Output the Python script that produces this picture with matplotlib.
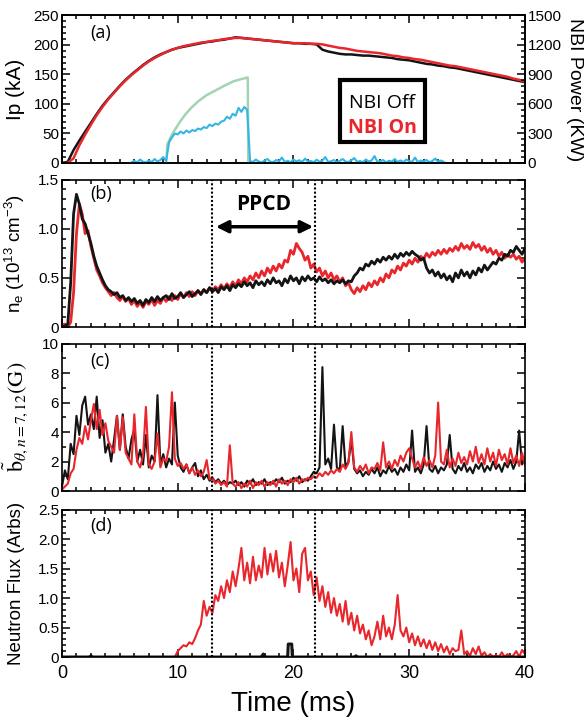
"""
Four stacked time traces: plasma current, density, magnetic fluctuation, neutron flux.
"""

import matplotlib
matplotlib.use('Agg')
import matplotlib.pyplot as plt
from matplotlib.patches import Rectangle
from matplotlib.ticker import MultipleLocator
import numpy as np

plt.rcParams['font.family'] = ['Liberation Sans', 'DejaVu Sans']
plt.rcParams['mathtext.fontset'] = 'custom'
plt.rcParams['mathtext.rm'] = 'Liberation Sans'
plt.rcParams['mathtext.it'] = 'Liberation Sans:italic'
plt.rcParams['mathtext.bf'] = 'Liberation Sans:bold'

# ---------------- data ----------------
# plasma current Ip (kA), sampled every 0.5 ms from 0 ms
ip_step = 0.5
ip_off = [0, 2, 22, 38, 53, 68, 83, 97, 109, 120,
          131, 141, 150, 158, 166, 173, 179, 184, 188, 192,
          195, 197, 199, 201, 203, 205, 206, 208, 209, 211,
          213, 212, 211, 210, 209, 208, 207, 206, 205, 204,
          203, 203, 202, 202, 201, 192, 189, 187, 185, 184,
          184, 183, 182, 182, 181, 180, 179, 178, 176, 175,
          174, 172, 170, 168, 167, 165, 164, 162, 161, 159,
          157, 155, 153, 151, 149, 147, 145, 143, 141, 139,
          137]
ip_on = [0, 0, 8, 30, 48, 65, 81, 95, 108, 119,
         130, 140, 149, 157, 165, 172, 178, 183, 188, 192,
         195, 198, 200, 202, 204, 205, 207, 208, 210, 211,
         212, 212, 211, 210, 209, 208, 207, 206, 205, 204,
         203, 203, 203, 202, 202, 201, 199, 197, 195, 194,
         192, 190, 189, 188, 187, 186, 184, 182, 181, 179,
         178, 176, 175, 173, 171, 169, 167, 165, 164, 162,
         160, 158, 156, 154, 152, 150, 148, 146, 143, 141,
         138]

# NBI power (kW): injected (green) and measured (blue)
nbi_inj_t = [9.0, 9.1, 9.5, 10.2, 10.7, 11.2, 11.8, 12.5, 13.3, 14.1, 14.8, 15.4, 15.9, 16.05, 16.1]
nbi_inj = [0, 190, 290, 420, 500, 565, 630, 690, 740, 790, 830, 850, 865, 870, 0]
nbi_meas_t0, nbi_meas_step = 6.0, 0.25
nbi_meas = [5, 20, 8, 35, 12, 5, 25, 10, 40, 15, 30, 60,
            20, 210, 260, 300, 290, 320, 300, 330, 310, 335, 325, 350,
            340, 365, 355, 390, 375, 400, 390, 420, 430, 470, 450, 500,
            480, 560, 520, 570, 540, 20, 10, 35, 15, 5, 25, 40,
            12, 8, 30, 18, 55, 10, 22, 6, 35, 15, 28, 9,
            45, 14, 20, 8, 33, 12, 25, 60, 10, 18, 30, 7,
            22, 40, 15, 9, 28, 50, 12, 20, 8, 35, 16, 25,
            70, 12, 18, 30, 6, 22, 14, 40, 10, 26, 8, 35,
            18, 12, 55, 9, 24, 15, 30, 8, 20, 45, 12, 25,
            10]

# the remaining traces are sampled every 0.25 ms from 0 to 40 ms
fast_step = 0.25

# electron density (1e13 cm^-3)
ne_off = [0.0, 0.01, 0.03, 0.45, 1.15, 1.35, 1.25, 1.1, 1.05, 0.95, 0.85, 0.72,
          0.62, 0.55, 0.48, 0.42, 0.38, 0.36, 0.33, 0.35, 0.30, 0.32, 0.27, 0.30,
          0.26, 0.29, 0.24, 0.27, 0.22, 0.28, 0.25, 0.30, 0.26, 0.31, 0.27, 0.30,
          0.32, 0.28, 0.34, 0.29, 0.31, 0.35, 0.30, 0.33, 0.36, 0.31, 0.34, 0.37,
          0.33, 0.38, 0.35, 0.40, 0.36, 0.39, 0.35, 0.41, 0.38, 0.42, 0.37, 0.43,
          0.40, 0.44, 0.41, 0.46, 0.42, 0.45, 0.40, 0.47, 0.43, 0.46, 0.42, 0.48,
          0.44, 0.50, 0.45, 0.47, 0.42, 0.49, 0.45, 0.52, 0.47, 0.50, 0.44, 0.51,
          0.47, 0.52, 0.48, 0.50, 0.46, 0.51, 0.47, 0.49, 0.45, 0.48, 0.44, 0.47,
          0.45, 0.48, 0.44, 0.47, 0.46, 0.52, 0.55, 0.60, 0.58, 0.64, 0.62, 0.67,
          0.64, 0.69, 0.66, 0.71, 0.68, 0.72, 0.69, 0.74, 0.70, 0.75, 0.72, 0.76,
          0.73, 0.77, 0.74, 0.72, 0.68, 0.70, 0.60, 0.55, 0.58, 0.52, 0.56, 0.50,
          0.54, 0.48, 0.52, 0.46, 0.55, 0.50, 0.58, 0.52, 0.56, 0.50, 0.57, 0.53,
          0.60, 0.56, 0.63, 0.58, 0.62, 0.66, 0.64, 0.70, 0.68, 0.74, 0.72, 0.78,
          0.76, 0.82, 0.78, 0.74, 0.80]
ne_on = [0.02, 0.03, 0.0, 0.05, 0.35, 0.95, 1.25, 1.15, 0.95, 0.98, 0.82, 0.70,
         0.58, 0.52, 0.45, 0.40, 0.36, 0.32, 0.35, 0.30, 0.27, 0.31, 0.26, 0.29,
         0.23, 0.27, 0.21, 0.25, 0.20, 0.26, 0.23, 0.28, 0.22, 0.27, 0.24, 0.30,
         0.26, 0.31, 0.27, 0.32, 0.28, 0.34, 0.30, 0.35, 0.31, 0.36, 0.32, 0.37,
         0.34, 0.38, 0.35, 0.40, 0.36, 0.41, 0.38, 0.43, 0.39, 0.44, 0.40, 0.46,
         0.42, 0.48, 0.44, 0.50, 0.46, 0.52, 0.48, 0.55, 0.50, 0.57, 0.52, 0.60,
         0.55, 0.62, 0.57, 0.64, 0.60, 0.68, 0.66, 0.78, 0.74, 0.85, 0.80, 0.76,
         0.68, 0.72, 0.60, 0.64, 0.56, 0.60, 0.52, 0.57, 0.50, 0.55, 0.48, 0.52,
         0.46, 0.50, 0.42, 0.45, 0.38, 0.34, 0.40, 0.36, 0.42, 0.38, 0.45, 0.41,
         0.47, 0.43, 0.50, 0.46, 0.54, 0.50, 0.58, 0.55, 0.62, 0.58, 0.65, 0.62,
         0.68, 0.64, 0.70, 0.66, 0.72, 0.69, 0.75, 0.71, 0.76, 0.73, 0.78, 0.74,
         0.79, 0.75, 0.80, 0.77, 0.82, 0.78, 0.85, 0.80, 0.83, 0.79, 0.86, 0.81,
         0.84, 0.78, 0.82, 0.76, 0.80, 0.74, 0.78, 0.72, 0.76, 0.70, 0.74, 0.71,
         0.74, 0.69, 0.72, 0.66, 0.70]

# magnetic fluctuation amplitude (G)
bt_off = [0.3, 1.4, 0.8, 3.2, 2.5, 5.1, 3.8, 5.8, 6.4, 4.5, 5.2, 4.2,
          6.4, 3.6, 4.8, 2.6, 3.2, 2.0, 3.5, 5.1, 2.8, 5.2, 3.0, 2.2,
          3.5, 4.2, 2.0, 2.8, 1.8, 3.8, 1.6, 2.4, 2.0, 6.5, 1.8, 2.5,
          1.6, 2.2, 1.8, 6.0, 2.4, 1.6, 1.3, 1.8, 1.2, 1.6, 1.9, 1.0,
          1.4, 0.8, 1.1, 0.7, 0.9, 0.6, 0.8, 0.5, 0.7, 0.4, 0.6, 0.5,
          0.7, 0.4, 0.6, 0.3, 0.7, 0.5, 0.8, 0.4, 0.6, 0.5, 0.8, 0.4,
          0.6, 0.5, 0.8, 0.6, 0.9, 0.5, 0.7, 0.6, 0.9, 0.7, 1.0, 0.6,
          0.8, 0.7, 1.0, 1.3, 1.2, 1.6, 8.4, 1.8, 2.2, 1.5, 4.5, 1.6,
          1.4, 4.4, 1.6, 2.0, 3.5, 1.5, 1.2, 1.4, 1.0, 1.3, 1.1, 1.5,
          1.2, 1.6, 1.0, 1.4, 1.2, 1.7, 1.3, 1.5, 1.1, 1.6, 1.3, 1.8,
          1.4, 4.1, 1.3, 1.6, 1.2, 1.8, 4.4, 1.5, 1.3, 1.7, 1.2, 1.6,
          1.4, 1.8, 3.8, 1.5, 1.2, 1.7, 1.4, 1.9, 1.3, 1.6, 1.2, 1.8,
          1.5, 1.9, 1.3, 1.7, 1.4, 2.0, 1.5, 1.8, 1.3, 1.9, 1.6, 2.1,
          1.5, 2.0, 4.1, 1.8, 2.2]
bt_on = [0.1, 0.3, 0.5, 1.2, 1.5, 2.8, 3.6, 3.2, 4.4, 3.5, 4.8, 5.9,
         4.2, 5.5, 3.8, 4.6, 3.4, 3.0, 2.6, 5.1, 2.8, 5.0, 2.6, 2.2,
         1.8, 5.2, 2.0, 1.6, 2.4, 5.7, 1.8, 1.5, 2.0, 3.9, 1.6, 2.2,
         2.0, 3.0, 6.7, 2.2, 1.7, 1.9, 1.5, 1.8, 1.2, 1.6, 1.1, 1.4,
         1.0, 1.3, 2.1, 0.8, 0.9, 0.5, 0.7, 0.4, 0.6, 0.3, 3.1, 0.5,
         0.3, 0.6, 0.2, 0.5, 0.3, 0.7, 0.2, 0.6, 0.4, 0.7, 0.3, 0.6,
         0.4, 0.7, 0.3, 0.8, 0.5, 0.7, 0.4, 0.8, 0.6, 0.9, 0.5, 0.8,
         0.7, 0.9, 0.8, 1.0, 0.9, 1.2, 1.0, 1.3, 1.1, 1.4, 1.2, 1.5,
         1.3, 1.8, 1.5, 1.9, 4.0, 1.6, 1.3, 1.7, 1.4, 1.8, 1.2, 1.6,
         1.5, 1.9, 1.4, 3.3, 1.6, 2.0, 1.5, 2.1, 1.7, 2.4, 2.0, 2.6,
         2.9, 2.2, 1.6, 2.0, 1.5, 2.3, 1.7, 2.1, 1.6, 2.4, 6.0, 2.0,
         1.8, 2.8, 1.6, 2.2, 1.7, 2.6, 1.9, 2.3, 1.8, 2.7, 2.0, 3.0,
         1.9, 2.5, 1.8, 2.9, 2.0, 2.6, 1.7, 2.8, 2.1, 2.5, 1.8, 2.9,
         1.9, 2.4, 1.7, 2.6, 1.8]

# neutron flux (arb. units)
nf_on = [0.0] * 36 + [
    0.0, 0.0, 0.0, 0.0, 0.1, 0.15, 0.2, 0.18, 0.25, 0.22, 0.32, 0.45,
    0.55, 0.95, 0.7, 0.85, 0.75, 1.05, 0.95, 1.2, 1.0, 1.3, 1.1, 1.45,
    1.2, 1.5, 1.85, 1.3, 1.6, 1.25, 1.7, 1.3, 1.55, 1.35, 1.85, 1.4,
    1.75, 1.45, 1.8, 1.35, 1.6, 1.2, 1.55, 1.95, 1.3, 1.5, 1.1, 1.75,
    1.85, 1.3, 1.45, 1.05, 1.35, 0.95, 1.2, 0.85, 1.1, 0.75, 1.0, 0.7,
    0.9, 0.6, 0.95, 0.55, 0.75, 0.45, 0.7, 0.4, 0.55, 0.3, 0.45, 0.2,
    0.35, 0.6, 0.3, 0.7, 0.35, 0.5, 0.3, 0.55, 1.05, 0.45, 0.35, 0.5,
    0.25, 0.4, 0.2, 0.35, 0.18, 0.3, 0.15, 0.28, 0.12, 0.25, 0.1, 0.22,
    0.08, 0.18, 0.05, 0.15, 0.1, 0.12, 0.45, 0.05, 0.1, 0.02, 0.15, 0.05,
    0.18, 0.02, 0.08, 0.0, 0.05, 0.0, 0.03, 0.0, 0.08, 0.0, 0.05, 0.0,
    0.03, 0.1, 0.0, 0.12, 0.05]
nf_off_t = [0, 2.4, 2.5, 2.6, 17.2, 17.4, 17.6, 19.5, 19.55, 19.85, 19.9, 25.3, 25.4, 25.5, 40]
nf_off = [0, 0, 0.02, 0, 0, 0.05, 0, 0, 0.22, 0.22, 0, 0, 0.02, 0, 0]

ppcd_window = [13.0, 21.9]

# ---------------- styling ----------------
RED = '#e8262b'
BLACK = '#141414'
BLUE = '#33b6e4'
GREEN = '#a2d4b2'


def fast_time(values, t0=0.0, step=fast_step):
    return t0 + step * np.arange(len(values))


def style_axis(ax, ymax, ymajor, yminor, right=True):
    ax.set_xlim(0, 40)
    ax.set_ylim(0, ymax)
    ax.xaxis.set_major_locator(MultipleLocator(10))
    ax.xaxis.set_minor_locator(MultipleLocator(1.25))
    ax.yaxis.set_major_locator(MultipleLocator(ymajor))
    ax.yaxis.set_minor_locator(MultipleLocator(yminor))
    ax.tick_params(which='both', direction='in', top=True, right=right, width=1.1)
    ax.tick_params(which='major', length=6)
    ax.tick_params(which='minor', length=3)
    ax.tick_params(axis='y', labelsize=11, pad=2)
    ax.tick_params(axis='x', labelsize=13, pad=6)
    for sp in ax.spines.values():
        sp.set_linewidth(1.2)


fig = plt.figure(figsize=(5.86, 7.24), dpi=100)
left, width, height = 0.1058, 0.790, 0.2037
bottoms = [0.7749, 0.5483, 0.3218, 0.0925]
axes = [fig.add_axes([left, b, width, height]) for b in bottoms]
ax_a, ax_b, ax_c, ax_d = axes

# (a) plasma current + NBI power
t_ip = ip_step * np.arange(len(ip_off))
ax_a.plot(t_ip, ip_off, color=BLACK, lw=1.8)
ax_a.plot(t_ip, ip_on, color=RED, lw=1.8)
style_axis(ax_a, 250, 50, 10, right=False)
ax_a.set_ylabel('Ip (kA)', fontsize=15)
ax_a.yaxis.set_label_coords(-0.08, 0.5)

ax_nbi = ax_a.twinx()
ax_nbi.plot(nbi_inj_t, nbi_inj, color=GREEN, lw=1.8)
ax_nbi.plot(fast_time(nbi_meas, nbi_meas_t0, nbi_meas_step), nbi_meas, color=BLUE, lw=1.5)
ax_nbi.set_ylim(0, 1500)
ax_nbi.yaxis.set_major_locator(MultipleLocator(300))
ax_nbi.yaxis.set_minor_locator(MultipleLocator(60))
ax_nbi.tick_params(which='both', direction='in', width=1.1, labelsize=11, pad=2)
ax_nbi.tick_params(which='major', length=6)
ax_nbi.tick_params(which='minor', length=3)
ax_nbi.set_ylabel('NBI Power (KW)', fontsize=14, rotation=270, va='center', ha='center')
ax_nbi.yaxis.set_label_coords(1.108, 0.5)
for sp in ax_nbi.spines.values():
    sp.set_linewidth(1.2)

# legend box
ax_a.add_patch(Rectangle((0.60, 0.142), 0.185, 0.42, transform=ax_a.transAxes,
                         fill=False, lw=3, edgecolor='black', zorder=5))
ax_a.text(0.692, 0.41, 'NBI Off', transform=ax_a.transAxes, ha='center', va='center',
          fontsize=14, family=['Open Sans', 'DejaVu Sans'], color='black')
ax_a.text(0.692, 0.236, 'NBI On', transform=ax_a.transAxes, ha='center', va='center',
          fontsize=14, family=['Open Sans', 'DejaVu Sans'], color=RED, fontweight='bold')

# (b) density
ax_b.plot(fast_time(ne_on), ne_on, color=RED, lw=2.0)
ax_b.plot(fast_time(ne_off), ne_off, color=BLACK, lw=2.0)
style_axis(ax_b, 1.5, 0.5, 0.1)
ax_b.set_yticks([0, 0.5, 1.0, 1.5])
ax_b.set_yticklabels(['0', '0.5', '1.0', '1.5'])
ax_b.set_ylabel(r'n$_{\rm e}$ (10$^{13}$ cm$^{-3}$)', fontsize=13.5)
ax_b.yaxis.set_label_coords(-0.075, 0.5)
ax_b.annotate('', xy=(ppcd_window[0] + 0.3, 1.02), xytext=(ppcd_window[1] - 0.2, 1.02),
              arrowprops=dict(arrowstyle='<|-|>', lw=2.5, mutation_scale=18, color='black',
                              shrinkA=0, shrinkB=0))
ax_b.text(sum(ppcd_window) / 2, 1.25, 'PPCD', ha='center', va='center',
          fontsize=15, fontweight='bold', family=['Open Sans', 'DejaVu Sans'])

# (c) magnetic fluctuations
ax_c.plot(fast_time(bt_off), bt_off, color=BLACK, lw=1.5)
ax_c.plot(fast_time(bt_on), bt_on, color=RED, lw=1.5)
style_axis(ax_c, 10, 2, 1)
ax_c.set_ylabel(r'$\tilde{\mathrm{b}}_{\theta,n=7,12}\mathrm{(G)}$', fontsize=16,
                math_fontfamily='stix')
ax_c.yaxis.set_label_coords(-0.07, 0.5)

# (d) neutron flux
ax_d.plot(fast_time(nf_on), nf_on, color=RED, lw=1.5)
ax_d.plot(nf_off_t, nf_off, color=BLACK, lw=2.2)
style_axis(ax_d, 2.5, 0.5, 0.1)
ax_d.set_yticks([0, 0.5, 1.0, 1.5, 2.0, 2.5])
ax_d.set_yticklabels(['0', '0.5', '1.0', '1.5', '2.0', '2.5'])
ax_d.set_ylabel('Neutron Flux (Arbs)', fontsize=13.5)
ax_d.yaxis.set_label_coords(-0.08, 0.5)
ax_d.set_xlabel('Time (ms)', fontsize=20, labelpad=6)

for ax in (ax_a, ax_b, ax_c):
    ax.tick_params(axis='x', labelbottom=False)

# PPCD window markers
for ax in (ax_b, ax_c, ax_d):
    for t in ppcd_window:
        ax.axvline(t, color='black', lw=1.5, ls=(0, (1, 1)), zorder=3)

# panel letters
for ax, letter, y in zip(axes, ['(a)', '(b)', '(c)', '(d)'], [0.88, 0.90, 0.88, 0.89]):
    ax.text(0.06, y, letter, transform=ax.transAxes, fontsize=13,
            family=['Open Sans', 'DejaVu Sans'], va='center')

fig.savefig('out.png', dpi=100)
